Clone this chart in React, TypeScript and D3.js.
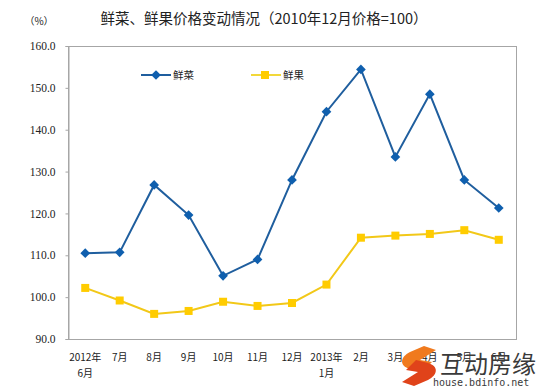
import { useEffect, useRef } from "react";
import * as d3 from "d3";

// categories (two-line labels)
const monthsTop = ["2012年", "7月", "8月", "9月", "10月", "11月", "12月", "2013年", "2月", "3月", "4月", "5月", "6月"];
const monthsBottom = ["6月", "", "", "", "", "", "", "1月", "", "", "", "", ""];

const vegName = "鲜菜";
const vegValues = [110.5, 110.7, 126.8, 119.6, 105.1, 109.0, 128.0, 144.3, 154.4, 133.5, 148.5, 128.0, 121.3];

const fruitName = "鲜果";
const fruitValues = [102.2, 99.2, 96.0, 96.7, 98.9, 97.9, 98.6, 103.0, 114.2, 114.7, 115.1, 116.0, 113.7];

const yTicks = [90, 100, 110, 120, 130, 140, 150, 160];

const W = 539;
const H = 392;

export default function App() {
  const svgRef = useRef<SVGSVGElement>(null);

  useEffect(() => {
    const svg = d3.select(svgRef.current);
    svg.selectAll("*").remove();

    const margin = { top: 46, right: 23, bottom: 53, left: 68 };
    const width = W - margin.left - margin.right;
    const height = H - margin.top - margin.bottom;

    const x = d3.scaleBand<number>().domain(d3.range(monthsTop.length)).range([0, width]);
    const y = d3.scaleLinear().domain([90, 160]).range([height, 0]);
    const cx = (i: number) => (x(i) as number) + x.bandwidth() / 2;

    svg.append("rect").attr("width", W).attr("height", H).attr("fill", "#fff");

    // title
    svg.append("text")
      .attr("x", 264).attr("y", 24)
      .attr("text-anchor", "middle")
      .attr("font-family", "'Noto Sans CJK SC', sans-serif")
      .attr("font-size", 14.5)
      .attr("fill", "#222")
      .text("鲜菜、鲜果价格变动情况（2010年12月价格=100）");

    svg.append("text")
      .attr("x", 39).attr("y", 25)
      .attr("text-anchor", "middle")
      .attr("font-family", "'Noto Sans CJK SC', sans-serif")
      .attr("font-size", 10)
      .attr("fill", "#222")
      .text("（%）");

    const g = svg.append("g").attr("transform", `translate(${margin.left},${margin.top})`);

    // plot box
    g.append("rect")
      .attr("x", 0.5).attr("y", 0.5)
      .attr("width", width).attr("height", height)
      .attr("fill", "none")
      .attr("stroke", "#a6a6a6")
      .attr("stroke-width", 1);

    // y axis
    const axisY = d3.axisLeft(y).tickValues(yTicks).tickSize(3).tickFormat(d => (+d).toFixed(1));
    g.append("g")
      .attr("transform", "translate(0.5,0)")
      .call(axisY)
      .call(s => s.select(".domain").attr("stroke", "#a6a6a6"))
      .call(s => s.selectAll(".tick line").attr("stroke", "#a6a6a6"))
      .call(s => s.selectAll(".tick text")
        .attr("x", -13)
        .attr("font-family", "'Liberation Serif', serif")
        .attr("font-size", 11.5)
        .attr("fill", "#222"));

    // x labels
    const xl = g.append("g")
      .attr("font-family", "'Noto Sans CJK SC', sans-serif")
      .attr("font-size", 10)
      .attr("fill", "#222")
      .attr("text-anchor", "middle");
    monthsTop.forEach((m, i) => {
      xl.append("text").attr("x", cx(i)).attr("y", height + 22).text(m);
      if (monthsBottom[i]) xl.append("text").attr("x", cx(i)).attr("y", height + 38).text(monthsBottom[i]);
    });

    const line = d3.line<number>().x((_, i) => cx(i)).y(d => y(d));

    // fruit series
    g.append("path")
      .attr("d", line(fruitValues))
      .attr("fill", "none")
      .attr("stroke", "#f2c818")
      .attr("stroke-width", 2);
    g.selectAll(".fm").data(fruitValues).enter().append("rect")
      .attr("x", (_, i) => cx(i) - 4).attr("y", d => y(d) - 4)
      .attr("width", 8).attr("height", 8)
      .attr("fill", "#ffcc00");

    // vegetable series
    g.append("path")
      .attr("d", line(vegValues))
      .attr("fill", "none")
      .attr("stroke", "#1f5e9e")
      .attr("stroke-width", 2);
    const diamond = d3.symbol().type(d3.symbolDiamond2).size(60);
    g.selectAll(".vm").data(vegValues).enter().append("path")
      .attr("d", diamond)
      .attr("transform", (d, i) => `translate(${cx(i)},${y(d)})`)
      .attr("fill", "#0f5fae");

    // legend
    const lg = svg.append("g")
      .attr("font-family", "'Noto Sans CJK SC', sans-serif")
      .attr("font-size", 10.5)
      .attr("fill", "#222");
    lg.append("line").attr("x1", 141).attr("x2", 171).attr("y1", 75).attr("y2", 75)
      .attr("stroke", "#1f5e9e").attr("stroke-width", 2);
    lg.append("path").attr("d", diamond).attr("transform", "translate(156,75)").attr("fill", "#0f5fae");
    lg.append("text").attr("x", 173).attr("y", 79).text(vegName);
    lg.append("line").attr("x1", 251).attr("x2", 281).attr("y1", 75).attr("y2", 75)
      .attr("stroke", "#f2d83a").attr("stroke-width", 2);
    lg.append("rect").attr("x", 261).attr("y", 71).attr("width", 8).attr("height", 8).attr("fill", "#ffcc00");
    lg.append("text").attr("x", 283).attr("y", 79).text(fruitName);

    // watermark
    const wm = svg.append("g");
    wm.append("path")
      .attr("d", "M424,346 L410,352 C400,357 399,366 410,369 L422,372 L432,362 L420,360 L436,350 Z")
      .attr("fill", "#f07a1e");
    wm.append("path")
      .attr("d", "M414,386 L428,380 C438,375 439,366 428,363 L416,360 L406,370 L418,372 L402,382 Z")
      .attr("fill", "#e0431a");
    wm.append("text")
      .attr("x", 440).attr("y", 373)
      .attr("font-family", "'Noto Sans CJK SC', sans-serif")
      .attr("font-size", 24)
      .attr("fill", "#3a3a3a")
      .text("互动房缘");
    wm.append("text")
      .attr("x", 433).attr("y", 386)
      .attr("font-family", "'DejaVu Sans Mono', monospace")
      .attr("font-size", 10)
      .attr("fill", "#3a3a3a")
      .text("house.bdinfo.net");
  }, []);

  return (
    <svg
      ref={svgRef}
      width={W}
      height={H}
      style={{ position: "absolute", left: 0, top: 0, display: "block" }}
    />
  );
}
